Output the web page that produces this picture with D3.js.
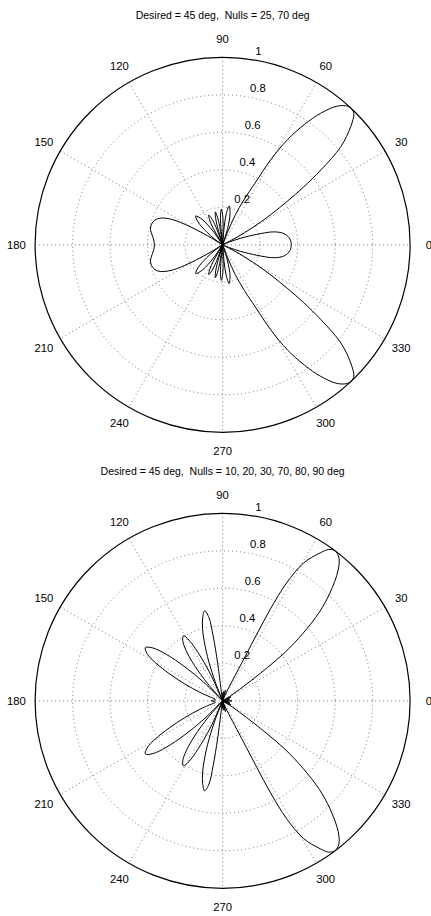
<!DOCTYPE html>
<html>
<head>
<meta charset="utf-8">
<script src="https://cdn.jsdelivr.net/npm/d3@7"></script>
<style>
  body { margin: 0; background: #fff; }
  text { font-family: "Liberation Sans", Arial, Helvetica, sans-serif; fill: #000; }
</style>
</head>
<body>
<div id="chart"></div>
<script>
// grid values
const ringValues = [0.2, 0.4, 0.6, 0.8, 1];
const spokeAngles = [0, 30, 60, 90, 120, 150, 180, 210, 240, 270, 300, 330];

// top pattern for 0..180 deg (plot is mirror symmetric about 0 deg)
const topTitle = "Desired = 45 deg,  Nulls = 25, 70 deg";
const topAngles = [0, 5, 10, 14, 17, 20, 22.5, 25, 27.5, 30, 32, 34, 35.5, 37.3, 39.7, 42.7, 45, 46.5, 48, 50.4,
  53.3, 55.8, 58.3, 60.5, 62.3, 64.5, 67, 68.5, 70, 73, 76.5, 80.5, 83.5, 85, 86.5, 88.5, 90, 92, 94, 95.5,
  97, 99, 100.5, 102.5, 104.5, 106, 108, 110.5, 112.5, 115, 117.5, 119.5, 122, 125, 128.5, 133, 137, 141,
  144.5, 147.5, 148.5, 149.5, 151, 153.3, 156.7, 160, 164, 168, 172, 176, 180];
const topGains = [0.366, 0.36, 0.335, 0.285, 0.19, 0.10, 0.04, 0, 0.08, 0.19, 0.30, 0.42, 0.53, 0.66, 0.82, 0.93, 0.99, 1.0, 0.995, 0.96,
  0.875, 0.775, 0.66, 0.52, 0.37, 0.27, 0.17, 0.08, 0, 0.09, 0.17, 0.21, 0.16, 0.09, 0, 0.11, 0.16, 0.19, 0.16, 0.1,
  0, 0.1, 0.15, 0.18, 0.15, 0.1, 0, 0.1, 0.15, 0.175, 0.15, 0.1, 0, 0.09, 0.17, 0.21, 0.18, 0.11,
  0.05, 0, 0.07, 0.12, 0.205, 0.30, 0.36, 0.385, 0.395, 0.393, 0.38, 0.368, 0.364];

// bottom pattern, 0..180 deg
const bottomTitle = "Desired = 45 deg,  Nulls = 10, 20, 30, 70, 80, 90 deg";
const bottomAngles = [0, 5, 10, 15, 20, 25, 30, 32.5, 34, 35.5, 36.6, 37.8, 40, 42.5, 45.1, 48.5, 51, 53.2, 55, 56.6,
  59.6, 61.5, 62.5, 62.8, 63, 63.5, 65, 67, 70, 75, 80, 85, 90, 93, 96.5, 97.5, 98.3, 99.3, 101.3, 103.5,
  105.5, 107.2, 109.5, 111.5, 112.5, 114.5, 117, 119, 121, 123.5, 126, 128.5, 131, 133, 135.5, 138, 140.5, 143,
  145.5, 148, 150.5, 153, 156, 159.5, 163, 167, 172, 176, 180];
const bottomGains = [0.05, 0.03, 0, 0.04, 0, 0.05, 0, 0.05, 0.11, 0.2, 0.3, 0.42, 0.56, 0.7, 0.81, 0.93, 0.985, 1.0, 0.985, 0.945,
  0.85, 0.715, 0.55, 0.4, 0.28, 0.17, 0.08, 0.03, 0, 0.06, 0, 0.05, 0, 0.04, 0, 0.2, 0.35, 0.45, 0.49, 0.455,
  0.4, 0.33, 0.22, 0.1, 0, 0.16, 0.29, 0.37, 0.405, 0.385, 0.33, 0.24, 0.12, 0, 0.14, 0.27, 0.39, 0.47,
  0.5, 0.475, 0.41, 0.32, 0.22, 0.13, 0.07, 0.04, 0.04, 0.05, 0.06];

const width = 431, height = 916;
const svg = d3.select("#chart").append("svg")
  .attr("width", width)
  .attr("height", height)
  .style("display", "block");

function polarChart(cy, title, angles, gains) {
  const cx = 222.6, R = 187.5;
  const r = d3.scaleLinear().domain([0, 1]).range([0, R]);
  // degrees counter clockwise from east -> d3 radial angle (clockwise from north)
  const a = d3.scaleLinear().domain([0, 360]).range([Math.PI / 2, Math.PI / 2 - 2 * Math.PI]);

  const g = svg.append("g").attr("transform", "translate(" + cx + "," + cy + ")");

  g.append("circle").attr("r", r(1)).attr("fill", "#fff");

  // dotted rings
  g.selectAll(".ring")
    .data(ringValues.filter(function(v) { return v < 1; }))
    .enter().append("circle")
    .attr("class", "ring")
    .attr("r", function(d) { return r(d); })
    .attr("fill", "none")
    .attr("stroke", "#666")
    .attr("stroke-width", 0.9)
    .attr("stroke-dasharray", "1,3");

  // dotted spokes through the centre
  g.selectAll(".spoke")
    .data(spokeAngles.filter(function(d) { return d > 0 && d <= 180; }))
    .enter().append("line")
    .attr("class", "spoke")
    .attr("x1", function(d) { return d3.pointRadial(a(d), r(1))[0]; })
    .attr("y1", function(d) { return d3.pointRadial(a(d), r(1))[1]; })
    .attr("x2", function(d) { return d3.pointRadial(a(d + 180), r(1))[0]; })
    .attr("y2", function(d) { return d3.pointRadial(a(d + 180), r(1))[1]; })
    .attr("stroke", "#666")
    .attr("stroke-width", 0.9)
    .attr("stroke-dasharray", "1,3");

  // outer solid circle
  g.append("circle")
    .attr("r", r(1))
    .attr("fill", "none")
    .attr("stroke", "#000")
    .attr("stroke-width", 1.2);

  // ring labels along 82 deg
  g.selectAll(".rlabel")
    .data(ringValues)
    .enter().append("text")
    .attr("class", "rlabel")
    .attr("x", function(d) { return d3.pointRadial(a(82), r(d + 0.01))[0]; })
    .attr("y", function(d) { return d3.pointRadial(a(82), r(d + 0.01))[1] - 2.6; })
    .attr("dx", "0.556em")
    .style("font-size", "11.3px")
    .text(function(d) { return d3.format("~g")(d); });

  // angle labels
  g.selectAll(".alabel")
    .data(spokeAngles)
    .enter().append("text")
    .attr("class", "alabel")
    .attr("x", function(d) { return d3.pointRadial(a(d), r(1.1))[0]; })
    .attr("y", function(d) { return d3.pointRadial(a(d), r(1.1))[1]; })
    .attr("text-anchor", "middle")
    .attr("dominant-baseline", "central")
    .style("font-size", "11.3px")
    .text(function(d) { return d; });

  // pattern: read upper half plus its mirror image
  const upper = angles.map(function(t, i) { return [t, gains[i]]; });
  const lower = upper.filter(function(d) { return d[0] > 0 && d[0] < 180; })
    .reverse()
    .map(function(d) { return [360 - d[0], d[1]]; });
  const pts = upper.concat(lower);

  const line = d3.lineRadial()
    .angle(function(d) { return a(d[0]); })
    .radius(function(d) { return r(d[1]); })
    .curve(d3.curveCatmullRomClosed.alpha(0.5));

  g.append("path")
    .datum(pts)
    .attr("d", line)
    .attr("fill", "none")
    .attr("stroke", "#000")
    .attr("stroke-width", 1);

  // title
  g.append("text")
    .attr("x", 0)
    .attr("y", -226.1)
    .attr("text-anchor", "middle")
    .style("font-size", "10.5px")
    .style("white-space", "pre")
    .text(title);
}

polarChart(244.8, topTitle, topAngles, topGains);
polarChart(700.8, bottomTitle, bottomAngles, bottomGains);
</script>
</body>
</html>
